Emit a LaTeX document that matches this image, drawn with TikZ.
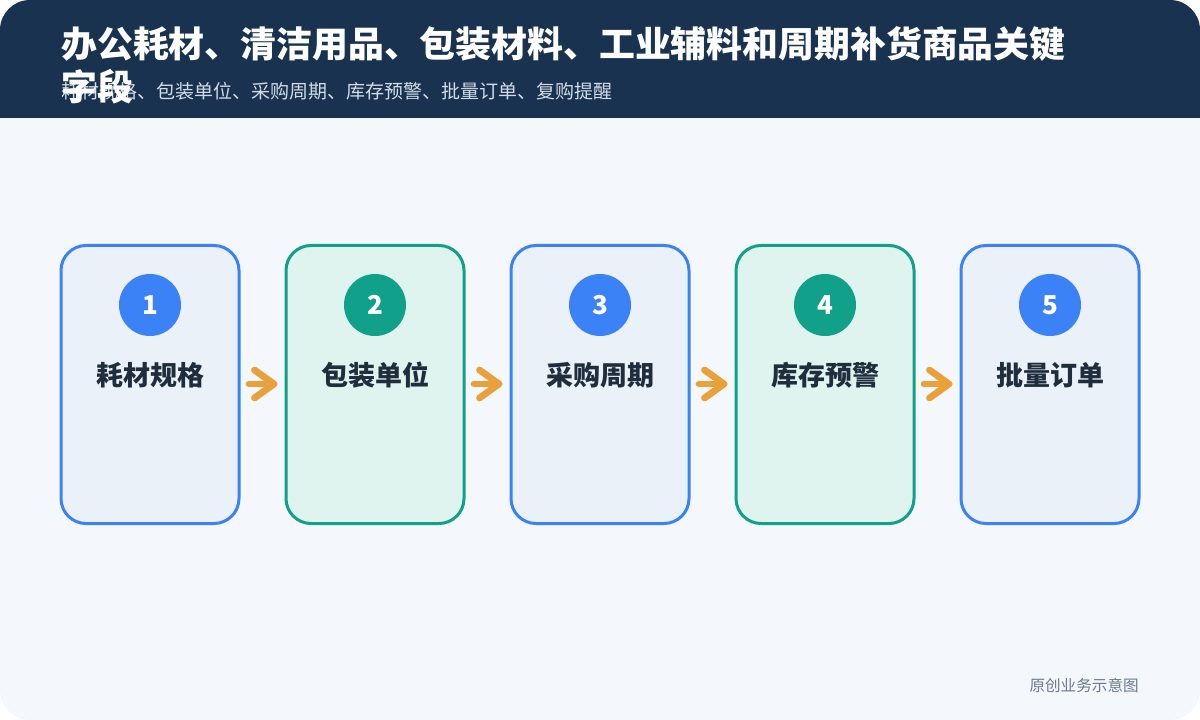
\documentclass[tikz,border=0pt]{standalone}
\usepackage{fontspec}
\setmainfont{Noto Sans CJK SC}
\usetikzlibrary{calc}
\definecolor{bgc}{HTML}{F4F8FC}
\definecolor{headc}{HTML}{183250}
\definecolor{subc}{HTML}{D3DCE8}
\definecolor{bluec}{HTML}{3B82F6}
\definecolor{bluefill}{HTML}{EAF1F9}
\definecolor{greenc}{HTML}{11A08A}
\definecolor{greenfill}{HTML}{DFF3EF}
\definecolor{labelc}{HTML}{1F2D3D}
\definecolor{arrowc}{HTML}{E9A23B}
\definecolor{footc}{HTML}{6B7A90}
\begin{document}
\begin{tikzpicture}[x=0.75pt,y=-0.75pt,
  card/.style 2 args={draw=#1, fill=#2, line width=2.25pt, rounded corners=18.75pt,
    minimum width=133.5pt, minimum height=208.5pt, inner sep=0pt},
  badge/.style={circle, fill=#1, minimum size=46.5pt, inner sep=0pt, text=white,
    font=\bfseries\fontsize{19.5pt}{22pt}\selectfont},
  steplabel/.style={inner sep=0pt, text=labelc, font=\bfseries\fontsize{20.25pt}{24pt}\selectfont},
  titletext/.style={anchor=base west, inner sep=0pt, text=white,
    font=\bfseries\fontsize{26.9pt}{32pt}\selectfont},
  subtext/.style={anchor=base west, inner sep=0pt, text=subc,
    font=\fontsize{14.25pt}{17pt}\selectfont},
  foottext/.style={anchor=east, inner sep=0pt, text=footc,
    font=\fontsize{11.7pt}{14pt}\selectfont},
  flow/.style={draw=arrowc, line width=5.1pt, line cap=round, line join=round}]
\useasboundingbox (0,0) rectangle (1200,720);
\begin{scope}
  \clip[rounded corners=22.5pt] (0,0) rectangle (1200,720);
  \fill[bgc] (0,0) rectangle (1200,720);
  \fill[headc] (0,0) rectangle (1200,118);
\end{scope}
% header texts
\node[titletext] (title1) at (61,57.5) {办公耗材、清洁用品、包装材料、工业辅料和周期补货商品关键};
\node[subtext] (subtitle) at (61,98.7) {耗材规格、包装单位、采购周期、库存预警、批量订单、复购提醒};
\node[titletext] (title2) at (61,100.5) {字段};
% cards
\foreach \i/\x/\lc/\fc/\txt in {1/150/bluec/bluefill/耗材规格,
                                 2/375/greenc/greenfill/包装单位,
                                 3/600/bluec/bluefill/采购周期,
                                 4/825/greenc/greenfill/库存预警,
                                 5/1050/bluec/bluefill/批量订单}{
  \node[card={\lc}{\fc}] (b\i) at (\x,384.5) {};
  \node[badge=\lc] (n\i) at (\x,305) {\i};
  \node[steplabel] (l\i) at (\x,375) {\txt};
}
% arrows
\foreach \a/\b in {1/2,2/3,3/4,4/5}{
  \draw[flow] ($(b\a.east)+(8.5,-0.5)$) coordinate (s\a) -- ($(b\b.west)+(-10.5,-0.5)$) coordinate (t\a);
  \draw[flow] ($(t\a)+(-19.5,-14)$) -- (t\a) -- ($(t\a)+(-19.5,14)$);
}
% footer
\node[foottext] (foot) at (1139,685) {原创业务示意图};
\end{tikzpicture}
\end{document}
